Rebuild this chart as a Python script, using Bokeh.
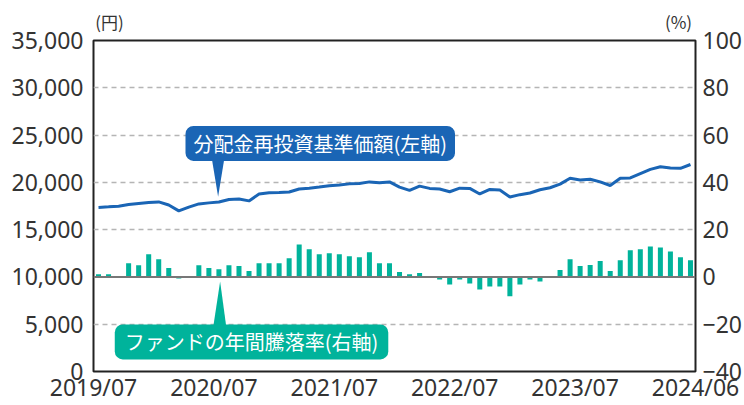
from bokeh.plotting import figure
from bokeh.models import (Range1d, LinearAxis, FixedTicker, NumeralTickFormatter,
                          Span, Label, ColumnDataSource)
from bokeh.embed import file_html
from bokeh.resources import INLINE

# ---- data ----
tick_pos = [0, 12, 24, 36, 48, 60]
tick_labels = ["2019/07", "2020/07", "2021/07", "2022/07", "2023/07", "2024/06"]

nav = [17350, 17410, 17480, 17650, 17760, 17870, 17930, 17600, 16980, 17380,
       17720, 17830, 17920, 18190, 18250, 18040, 18760, 18900, 18920, 18980,
       19300, 19380, 19500, 19640, 19710, 19840, 19880, 20050, 19950, 20050,
       19500, 19150, 19600, 19360, 19290, 19010, 19390, 19360, 18770, 19250,
       19180, 18460, 18700, 18870, 19220, 19430, 19810, 20430, 20260, 20330,
       20050, 19670, 20430, 20470, 20920, 21370, 21650, 21510, 21480, 21890]

ret = [1.1, 1.1, 0.3, 5.8, 4.9, 9.6, 7.5, 3.75, -0.7, 0.4,
       4.9, 3.75, 3.3, 4.9, 4.6, 2.5, 5.8, 5.8, 5.8, 7.9,
       13.75, 11.7, 9.6, 10.0, 9.6, 8.75, 8.3, 10.4, 5.8, 5.8,
       2.1, 1.1, 1.7, -0.2, -1.1, -3.2, -1.1, -2.8, -5.3, -4.0,
       -4.0, -8.2, -3.2, -1.1, -1.9, 0.4, 2.9, 7.5, 4.6, 5.0,
       6.7, 2.5, 7.1, 11.25, 11.7, 12.9, 12.5, 10.8, 8.3, 7.1]

yen_ticks = [0, 5000, 10000, 15000, 20000, 25000, 30000, 35000]
pct_ticks = [-40, -20, 0, 20, 40, 60, 80, 100]
unit_labels = {16: "(円)", 587: "(%)"}

BLUE = "#1a65b5"
TEAL = "#00b39b"
TXT = "#333333"
NUMFONT = "Noto Sans"
JPFONT = "Noto Sans CJK JP"

xs = [i + 0.5 for i in range(len(nav))]
src = ColumnDataSource(dict(x=xs, nav=nav, ret=ret))

p = figure(width=744, height=405, x_range=Range1d(0, 60), y_range=Range1d(0, 35000),
           output_backend="svg", toolbar_location=None,
           min_border_left=93, min_border_right=47, min_border_top=40, min_border_bottom=0)
p.extra_y_ranges = {"pct": Range1d(-40, 100)}
p.extra_x_ranges = {"unit": Range1d(0, 604)}
p.background_fill_color = "white"
p.border_fill_color = "white"
p.outline_line_color = "#222222"
p.outline_line_width = 2

# grid
p.xgrid.visible = False
p.ygrid.ticker = FixedTicker(ticks=[5000, 15000, 20000, 25000, 30000])
p.ygrid.grid_line_color = "#b5b5b5"
p.ygrid.grid_line_dash = "5 4"
p.ygrid.grid_line_width = 1.5


def style_axis(ax, font, size):
    ax.axis_line_color = None
    ax.major_tick_line_color = None
    ax.minor_tick_line_color = None
    ax.major_tick_out = 0
    ax.major_tick_in = 0
    ax.minor_tick_out = 0
    ax.minor_tick_in = 0
    ax.major_label_text_font = font
    ax.major_label_text_font_size = size
    ax.major_label_text_color = TXT


style_axis(p.xaxis[0], NUMFONT, "23px")
p.xaxis[0].ticker = FixedTicker(ticks=tick_pos)
p.xaxis[0].major_label_overrides = {t: l for t, l in zip(tick_pos, tick_labels)}
p.xaxis[0].major_label_standoff = -1

style_axis(p.yaxis[0], NUMFONT, "23px")
p.yaxis[0].ticker = FixedTicker(ticks=yen_ticks)
p.yaxis[0].formatter = NumeralTickFormatter(format="0,0")
p.yaxis[0].major_label_standoff = 10

rax = LinearAxis(y_range_name="pct", ticker=FixedTicker(ticks=pct_ticks))
style_axis(rax, NUMFONT, "23px")
rax.major_label_standoff = 7
p.add_layout(rax, "right")

# unit captions above the frame
uax = LinearAxis(x_range_name="unit", ticker=FixedTicker(ticks=list(unit_labels.keys())))
style_axis(uax, JPFONT, "17px")
uax.major_label_overrides = unit_labels
uax.major_label_standoff = 7
p.add_layout(uax, "above")

# bars and line
p.vbar(x="x", top="ret", bottom=0, width=0.5, source=src, y_range_name="pct",
       fill_color=TEAL, line_color=None)
p.add_layout(Span(location=0, dimension="width", y_range_name="pct",
                  line_color="#777777", line_width=2))
p.line(x="x", y="nav", source=src, line_color=BLUE, line_width=3)

# callout pointers (anchored at month index 12)
a = 12
p.patch(x=[a - 0.36, a + 1.19, a + 0.42], y=[23490, 23490, 18490],
        fill_color=BLUE, line_color=None)
p.patch(x=[a - 0.15, a + 1.31, a + 0.62], y=[-23.5, -23.5, -1.9],
        fill_color=TEAL, line_color=None, y_range_name="pct")

lab1 = Label(x=22.6, y=24115, text="分配金再投資基準価額(左軸)",
             text_align="center", text_baseline="middle",
             text_font=JPFONT, text_font_size="20px", text_color="white",
             background_fill_color=BLUE, padding=dict(x=8, y=3), border_radius=8)
lab2 = Label(x=15.75, y=-27.5, y_range_name="pct", text="ファンドの年間騰落率(右軸)",
             text_align="center", text_baseline="middle",
             text_font=JPFONT, text_font_size="20px", text_color="white",
             background_fill_color=TEAL, padding=dict(x=10, y=3), border_radius=8)
p.add_layout(lab1)
p.add_layout(lab2)

open("out.html", "w").write(file_html(p, INLINE))
